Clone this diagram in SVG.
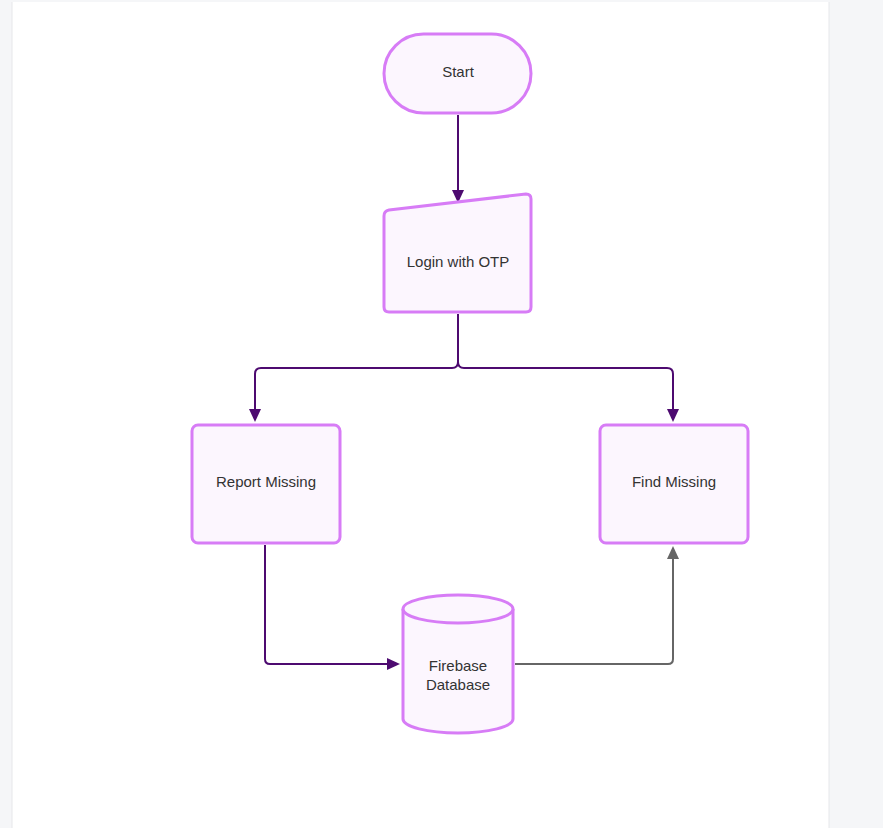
<svg xmlns="http://www.w3.org/2000/svg" width="883" height="828" viewBox="0 0 883 828">
  <defs>
    <style>
      .node { fill: #fcf6fe; stroke: #d77cf6; stroke-width: 3; stroke-linejoin: round; }
      .label { font-family: "Liberation Sans", Arial, sans-serif; font-size: 15px; fill: #333333; text-anchor: middle; }
      .wire { fill: none; stroke: #4d0a70; stroke-width: 2; stroke-linejoin: round; }
      .wire-gray { fill: none; stroke: #666666; stroke-width: 2; stroke-linejoin: round; }
      .head { fill: #4d0a70; }
      .head-gray { fill: #666666; }
    </style>
  </defs>

  <!-- page backdrop -->
  <rect x="0" y="0" width="883" height="828" fill="#f5f6f8"/>
  <rect x="12" y="2" width="817" height="826" fill="#ffffff"/>
  <line x1="12" y1="2" x2="12" y2="828" stroke="#e6e7ea" stroke-width="1"/>
  <line x1="829" y1="2" x2="829" y2="828" stroke="#e6e7ea" stroke-width="1"/>

  <!-- connectors -->
  <g id="connectors">
    <path class="wire" d="M458,115 V195"/>
    <path class="wire" d="M458,314 V362 Q458,368 452,368 H261 Q255,368 255,374 V412"/>
    <path class="wire" d="M458,362 Q458,368 464,368 H667 Q673,368 673,374 V412"/>
    <path class="wire" d="M265,545 V659 Q265,664 270,664 H390"/>
    <path class="wire-gray" d="M515,664 H668 Q673,664 673,659 V556"/>
    <!-- arrowheads -->
    <path class="head" d="M452,190 L464,190 L458,203 Z"/>
    <path class="head" d="M249,409 L261,409 L255,422 Z"/>
    <path class="head" d="M667,409 L679,409 L673,422 Z"/>
    <path class="head" d="M387,658 L387,670 L400,664 Z"/>
    <path class="head-gray" d="M667,559 L679,559 L673,546 Z"/>
  </g>

  <!-- Start terminator -->
  <g id="start">
    <rect class="node" x="384" y="34" width="147" height="79" rx="39.5" ry="39.5"/>
    <text class="label" x="458" y="77">Start</text>
  </g>

  <!-- Login manual input -->
  <g id="login">
    <path class="node" d="M389,210 L526,194 Q531,194 531,199 V307 Q531,312 526,312 H389 Q384,312 384,307 V216 Q384,211 389,210 Z"/>
    <text class="label" x="458" y="267">Login with OTP</text>
  </g>

  <!-- Report Missing -->
  <g id="report">
    <rect class="node" x="192" y="425" width="148" height="118" rx="6" ry="6"/>
    <text class="label" x="266" y="487">Report Missing</text>
  </g>

  <!-- Find Missing -->
  <g id="find">
    <rect class="node" x="600" y="425" width="148" height="118" rx="6" ry="6"/>
    <text class="label" x="674" y="487">Find Missing</text>
  </g>

  <!-- Firebase Database cylinder -->
  <g id="database">
    <path class="node" d="M403,609 A55,14 0 0 1 513,609 V719 A55,14 0 0 1 403,719 Z"/>
    <path class="node" d="M403,609 A55,14 0 0 0 513,609" fill="none"/>
    <text class="label" x="458" y="671">Firebase</text>
    <text class="label" x="458" y="690">Database</text>
  </g>
</svg>
